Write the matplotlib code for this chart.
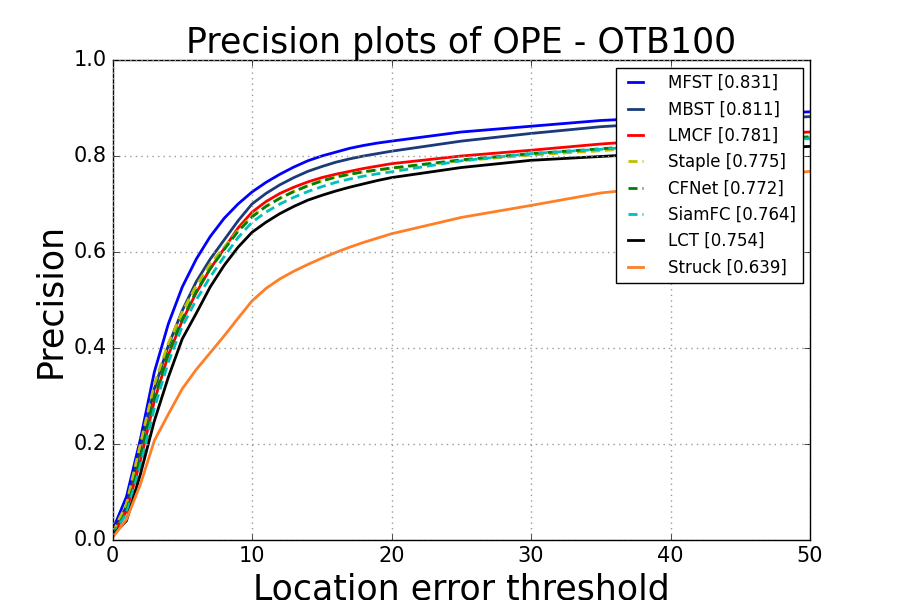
import matplotlib
matplotlib.use("Agg")
import matplotlib.pyplot as plt

# location error thresholds where values were read
thresholds = [0, 1, 2, 3, 4, 5, 6, 7, 8, 9, 10, 11, 12, 13, 14, 15, 16, 17, 18, 19, 20,
              25, 30, 35, 40, 45, 50]

mfst = [0.02, 0.09, 0.21, 0.35, 0.45, 0.527, 0.585, 0.632, 0.67, 0.70, 0.725, 0.745, 0.762,
        0.777, 0.79, 0.80, 0.808, 0.816, 0.822, 0.827, 0.831, 0.85, 0.862, 0.874, 0.881,
        0.887, 0.892]
mbst = [0.015, 0.07, 0.19, 0.315, 0.405, 0.478, 0.538, 0.585, 0.625, 0.665, 0.70, 0.722,
        0.74, 0.755, 0.768, 0.778, 0.787, 0.794, 0.80, 0.805, 0.81, 0.831, 0.847, 0.861,
        0.870, 0.877, 0.882]
lmcf = [0.01, 0.06, 0.165, 0.29, 0.385, 0.457, 0.515, 0.565, 0.607, 0.65, 0.683, 0.705,
        0.722, 0.735, 0.746, 0.755, 0.762, 0.768, 0.774, 0.779, 0.784, 0.80, 0.812, 0.825,
        0.835, 0.843, 0.85]
staple = [0.015, 0.075, 0.20, 0.325, 0.41, 0.475, 0.53, 0.575, 0.61, 0.645, 0.675, 0.695,
          0.712, 0.726, 0.738, 0.748, 0.756, 0.762, 0.767, 0.771, 0.774, 0.79, 0.802, 0.811,
          0.822, 0.831, 0.838]
cfnet = [0.01, 0.06, 0.17, 0.295, 0.39, 0.46, 0.518, 0.565, 0.605, 0.643, 0.673, 0.695,
         0.712, 0.726, 0.738, 0.748, 0.756, 0.762, 0.767, 0.771, 0.775, 0.792, 0.805, 0.815,
         0.826, 0.834, 0.84]
siamfc = [0.01, 0.055, 0.155, 0.275, 0.37, 0.445, 0.50, 0.548, 0.59, 0.63, 0.662, 0.683,
          0.70, 0.714, 0.726, 0.736, 0.745, 0.752, 0.758, 0.763, 0.767, 0.79, 0.805, 0.814,
          0.824, 0.831, 0.836]
lct = [0.01, 0.04, 0.137, 0.248, 0.339, 0.419, 0.472, 0.527, 0.572, 0.61, 0.641, 0.662,
       0.68, 0.695, 0.708, 0.718, 0.727, 0.735, 0.742, 0.749, 0.755, 0.776, 0.791, 0.799,
       0.807, 0.814, 0.82]
struck = [0.005, 0.043, 0.116, 0.207, 0.262, 0.315, 0.355, 0.39, 0.425, 0.462, 0.498, 0.524,
          0.544, 0.56, 0.574, 0.587, 0.599, 0.61, 0.62, 0.629, 0.638, 0.672, 0.697, 0.723,
          0.738, 0.753, 0.768]

trackers = ["MFST", "MBST", "LMCF", "Staple", "CFNet", "SiamFC", "LCT", "Struck"]
scores = [0.831, 0.811, 0.781, 0.775, 0.772, 0.764, 0.754, 0.639]
series = [mfst, mbst, lmcf, staple, cfnet, siamfc, lct, struck]
colors = ["#0000ff", "#1a3a7a", "#ff0000", "#bfbf00", "#008000", "#00bfbf", "#000000", "#ff7f27"]
dashed = [False, False, False, True, True, True, False, False]

plt.style.use("classic")
plt.rcParams["lines.scale_dashes"] = False

fig = plt.figure(figsize=(9, 6), dpi=100, facecolor="white")
ax = fig.add_subplot(111)
fig.subplots_adjust(left=0.125, right=0.9, bottom=0.1, top=0.9)

for name, sc, vals, col, dsh in zip(trackers, scores, series, colors, dashed):
    line, = ax.plot(thresholds, vals, color=col, lw=2, label="%s [%.3f]" % (name, sc))
    if dsh:
        line.set_dashes((6.5, 3.6))

ax.set_xlim(0, 50)
ax.set_ylim(0, 1)
ax.set_xticks([0, 10, 20, 30, 40, 50])
ax.set_yticks([0.0, 0.2, 0.4, 0.6, 0.8, 1.0])
ax.tick_params(labelsize=15)
ax.grid(True, color="#999999", linestyle=":", linewidth=1)

ax.set_title("Precision plots of OPE - OTB100", fontsize=25)
ax.set_xlabel("Location error threshold", fontsize=25)
ax.set_ylabel("Precision", fontsize=25)

leg = ax.legend(loc="upper right", fontsize=12, handlelength=1.5, handletextpad=1.2,
                labelspacing=0.5, fancybox=False, borderaxespad=0.45)
leg.get_frame().set_edgecolor("black")

fig.savefig("out.png", dpi=100, facecolor="white")
